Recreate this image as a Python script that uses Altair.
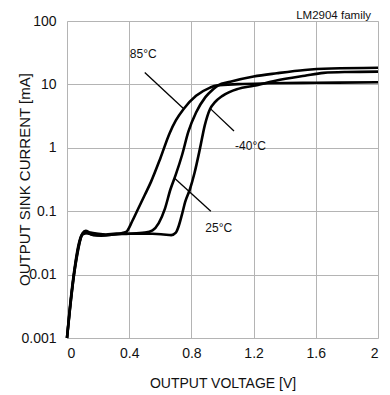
import altair as alt
import pandas as pd

# Curve data (OUTPUT VOLTAGE [V] vs OUTPUT SINK CURRENT [mA])
v_85 = [0, 0.02, 0.04, 0.06, 0.08, 0.1, 0.12, 0.15, 0.2, 0.25, 0.3, 0.35, 0.38,
        0.42, 0.45, 0.5, 0.54, 0.6, 0.66, 0.7, 0.75, 0.83, 0.92, 0.96, 1.1, 1.3, 1.6, 2.0]
i_85 = [0.001, 0.003, 0.008, 0.018, 0.032, 0.045, 0.049, 0.046, 0.044, 0.043, 0.044, 0.045, 0.047,
        0.07, 0.1, 0.18, 0.29, 0.68, 1.7, 2.7, 4.1, 6.6, 8.9, 9.6, 10.1, 10.4, 10.6, 10.8]

v_25 = [0, 0.025, 0.045, 0.065, 0.085, 0.1, 0.13, 0.16, 0.22, 0.3, 0.4, 0.5, 0.55, 0.59,
        0.63, 0.665, 0.7, 0.74, 0.78, 0.83, 0.89, 0.94, 0.97, 1.05, 1.2, 1.35, 1.53, 1.7, 2.0]
i_25 = [0.001, 0.004, 0.01, 0.02, 0.035, 0.043, 0.045, 0.043, 0.041, 0.043, 0.044, 0.046, 0.05, 0.065,
        0.11, 0.22, 0.38, 0.77, 1.78, 3.6, 6.3, 8.4, 9.6, 11.0, 13.3, 15.0, 16.9, 17.8, 18.3]

v_m40 = [0, 0.015, 0.035, 0.055, 0.075, 0.095, 0.12, 0.17, 0.25, 0.35, 0.45, 0.55, 0.62, 0.67,
         0.7, 0.72, 0.74, 0.76, 0.79, 0.82, 0.855, 0.886, 0.92, 0.95, 1.0, 1.1, 1.2, 1.34, 1.53,
         1.65, 1.8, 2.0]
i_m40 = [0.001, 0.0025, 0.007, 0.016, 0.03, 0.042, 0.046, 0.042, 0.042, 0.044, 0.044, 0.044, 0.043, 0.042,
         0.046, 0.06, 0.09, 0.14, 0.22, 0.4, 0.97, 2.26, 4.1, 5.2, 6.6, 8.5, 9.5, 11.4, 13.7,
         15.2, 15.7, 15.9]

# Annotation labels and pointer lines
label_text = ["85°C", "-40°C", "25°C"]
label_v = [0.49, 1.18, 0.976]
label_i = [30.5, 1.07, 0.054]
ptr_v1 = [0.5, 0.925, 0.692]
ptr_i1 = [15.4, 4.07, 0.332]
ptr_v2 = [0.747, 1.074, 0.925]
ptr_i2 = [4.22, 1.84, 0.1]

x_ticks = [0, 0.4, 0.8, 1.2, 1.6, 2]
y_ticks = [0.001, 0.01, 0.1, 1, 10, 100]
corner_title = ["LM2904  family"]

FONT = "Liberation Sans"

rows = []
for name, vs, cs in [("85", v_85, i_85), ("25", v_25, i_25), ("-40", v_m40, i_m40)]:
    for k, (v, c) in enumerate(zip(vs, cs)):
        rows.append({"curve": name, "order": k, "v": v, "i": c})
df = pd.DataFrame(rows)

lab = pd.DataFrame({"t": label_text, "v": label_v, "i": label_i})
ptr = pd.DataFrame({"v": ptr_v1, "i": ptr_i1, "v2": ptr_v2, "i2": ptr_i2})
ttl = pd.DataFrame({"t": corner_title})

xscale = alt.Scale(domain=[0, 2], nice=False, zero=False)
yscale = alt.Scale(type="log", domain=[0.001, 100], nice=False)

xaxis = alt.Axis(values=x_ticks, format="~g", title="OUTPUT VOLTAGE [V]",
                 grid=True, gridColor="#b4b4b4", gridWidth=1, domain=False, ticks=False,
                 labelFont=FONT, labelFontSize=14, labelColor="#111", labelPadding=8,
                 titleFont=FONT, titleFontSize=14, titleFontWeight="normal", titleColor="#111",
                 titlePadding=16)
yaxis = alt.Axis(values=y_ticks, format="~g", title="OUTPUT SINK CURRENT [mA]",
                 grid=True, gridColor="#b4b4b4", gridWidth=1, domain=False, ticks=False,
                 labelFont=FONT, labelFontSize=14, labelColor="#111", labelPadding=11,
                 titleFont=FONT, titleFontSize=15, titleFontWeight="normal", titleColor="#111",
                 titleX=-35, titleY=158)

lines = alt.Chart(df).mark_line(color="black", strokeWidth=2.6, interpolate="monotone").encode(
    x=alt.X("v:Q", scale=xscale, axis=xaxis),
    y=alt.Y("i:Q", scale=yscale, axis=yaxis),
    detail="curve:N",
    order="order:Q",
)

pointers = alt.Chart(ptr).mark_rule(color="black", strokeWidth=1.3).encode(
    x=alt.X("v:Q", scale=xscale),
    y=alt.Y("i:Q", scale=yscale),
    x2="v2:Q",
    y2="i2:Q",
)

labels = alt.Chart(lab).mark_text(font=FONT, fontSize=12, color="#111").encode(
    x=alt.X("v:Q", scale=xscale),
    y=alt.Y("i:Q", scale=yscale),
    text="t:N",
)

corner = alt.Chart(ttl).mark_text(font=FONT, fontSize=11.5, color="#111", align="right",
                                  baseline="alphabetic").encode(
    x=alt.value(304),
    y=alt.value(-2.5),
    text="t:N",
)

chart = alt.layer(lines, pointers, labels, corner).properties(
    width=311, height=317,
    autosize=alt.AutoSizeParams(type="none"),
    padding={"left": 59, "top": 13, "right": 4, "bottom": 55},
).configure_view(stroke="#777", strokeWidth=1.5).configure(background="white")

chart.save("out.html", embed_options={"renderer": "svg", "actions": False})
